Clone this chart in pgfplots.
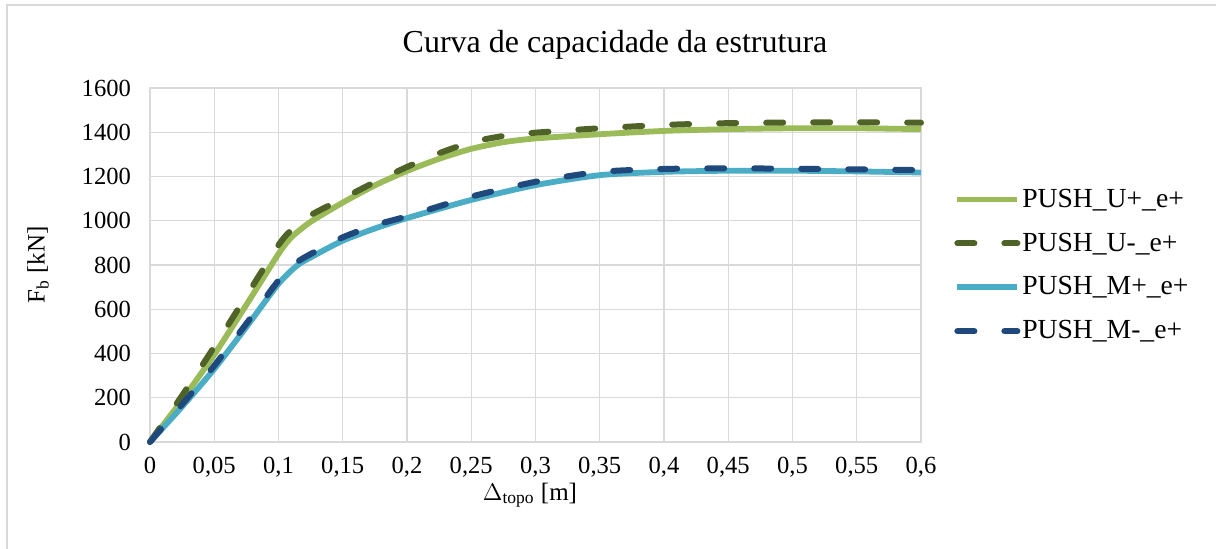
\documentclass[border=0pt]{standalone}
\usepackage{fontspec}
\setmainfont{Liberation Serif}
\usepackage{pgfplots}
\pgfplotsset{compat=1.18}
\definecolor{cUp}{HTML}{9BBB59}
\definecolor{cUm}{HTML}{4F6228}
\definecolor{cMp}{HTML}{4BACC6}
\definecolor{cMm}{HTML}{1F497D}
\definecolor{gridc}{HTML}{D9D9D9}
\begin{document}
\begin{tikzpicture}
\useasboundingbox (-75pt,-53.5pt) rectangle (533pt,221pt);
\draw[gridc, line width=0.8pt] (-71.5pt,-53.5pt) -- (-71.5pt,218.5pt) -- (533pt,218.5pt);
\begin{axis}[
  at={(0,0)}, anchor=south west,
  scale only axis, width=385.5pt, height=177pt,
  xmin=0, xmax=0.6, ymin=0, ymax=1600,
  xtick={0,0.05,...,0.6}, ytick={0,200,...,1600},
  xticklabels={0,{0,05},{0,1},{0,15},{0,2},{0,25},{0,3},{0,35},{0,4},{0,45},{0,5},{0,55},{0,6}},
  /pgf/number format/assume math mode=true,
  /pgf/number format/1000 sep={},
  grid=major, major grid style={gridc, line width=0.6pt},
  axis line style={gridc, line width=0.8pt},
  major tick length=0pt,
  tick label style={font=\fontsize{12.3}{14}\selectfont},
  xticklabel style={yshift=-4pt},
  yticklabel style={xshift=-6pt},
  legend style={at={(1.035,0.733)}, anchor=north west, draw=none, fill=none,
    font=\fontsize{13.8}{16}\selectfont, row sep=9.3pt,
    nodes={inner sep=1pt},
    /tikz/every even column/.append style={column sep=0pt}},
  legend cell align=left,
  legend image code/.code={\draw[#1] (0pt,0pt) -- (30pt,0pt);},
  clip=false,
]
\addplot[cUp, line width=2.9pt, smooth, tension=0.4] coordinates {
(0,0)(0.025,190)(0.05,395)(0.075,620)(0.1,850)(0.11,925)(0.125,995)(0.15,1082)(0.175,1160)(0.2,1225)(0.225,1280)(0.25,1325)(0.275,1355)(0.3,1372)(0.35,1391)(0.4,1406)(0.45,1414)(0.5,1418)(0.55,1418)(0.6,1414)};
\addlegendentry{PUSH\_U+\_e+}
\addplot[cUm, line width=3pt, line cap=round, dash pattern=on 8.5pt off 15pt, smooth, tension=0.4] coordinates {
(0,0)(0.025,210)(0.05,430)(0.075,660)(0.1,890)(0.11,958)(0.125,1025)(0.15,1100)(0.175,1175)(0.2,1243)(0.225,1305)(0.25,1355)(0.275,1383)(0.3,1398)(0.35,1418)(0.4,1433)(0.45,1441)(0.5,1444)(0.55,1445)(0.6,1443)};
\addlegendentry{PUSH\_U-\_e+}
\addplot[cMp, line width=2.9pt, smooth, tension=0.4] coordinates {
(0,0)(0.025,160)(0.05,330)(0.075,520)(0.1,715)(0.115,800)(0.13,850)(0.15,910)(0.175,965)(0.2,1012)(0.25,1094)(0.3,1161)(0.35,1206)(0.4,1221)(0.45,1226)(0.5,1226)(0.55,1223)(0.6,1218)};
\addlegendentry{PUSH\_M+\_e+}
\addplot[cMm, line width=3pt, line cap=round, dash pattern=on 8.5pt off 15pt, smooth, tension=0.4] coordinates {
(0,0)(0.025,170)(0.05,345)(0.075,535)(0.1,730)(0.115,815)(0.13,865)(0.15,925)(0.175,980)(0.2,1020)(0.25,1109)(0.3,1176)(0.35,1221)(0.4,1234)(0.45,1237)(0.5,1235)(0.55,1232)(0.6,1229)};
\addlegendentry{PUSH\_M-\_e+}
\end{axis}
\node[font=\fontsize{16}{19}\selectfont] at (232.5pt,198.5pt) {Curva de capacidade da estrutura};
\node[font=\fontsize{12.5}{15}\selectfont] at (190pt,-26.5pt) {$\Delta$\textsubscript{topo} [m]};
\node[font=\fontsize{12.5}{15}\selectfont, rotate=90] at (-56pt,88.5pt) {F\textsubscript{b} [kN]};
\end{tikzpicture}
\end{document}
